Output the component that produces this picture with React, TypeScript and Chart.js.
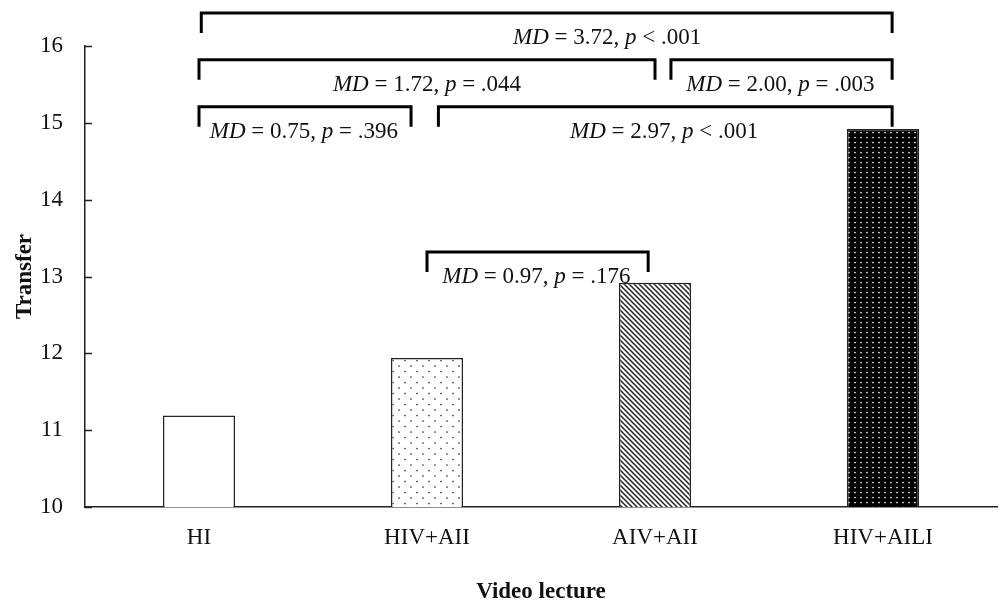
import { useEffect, useRef } from 'react';
import { Chart, registerables } from 'chart.js';

Chart.register(...registerables);

const categories = ['HI', 'HIV+AII', 'AIV+AII', 'HIV+AILI'];
const transferMeans = [11.19, 11.94, 12.92, 14.92];
const yMin = 10;
const yMax = 16;

// comparison brackets (x in category units, level in data units)
const bracketFrom = [0.01, 0.0, 2.07, 0.0, 1.05, 1.0];
const bracketTo = [3.04, 2.0, 3.04, 0.93, 3.04, 1.97];
const bracketLevel = [16.43, 15.82, 15.82, 15.21, 15.21, 13.32];
const bracketMD = ['3.72', '1.72', '2.00', '0.75', '2.97', '0.97'];
const bracketP = ['< .001', '= .044', '= .003', '= .396', '< .001', '= .176'];
const bracketLabelAt = [1.79, 1.0, 2.55, 0.46, 2.04, 1.48];

const FONT = '"Liberation Serif", "Times New Roman", serif';

function makeTile(w: number, h: number, draw: (c: CanvasRenderingContext2D) => void): CanvasPattern | string {
  const cv = document.createElement('canvas');
  cv.width = w;
  cv.height = h;
  const c = cv.getContext('2d');
  if (!c) return '#fff';
  draw(c);
  const ctx2 = document.createElement('canvas').getContext('2d');
  return (ctx2 && ctx2.createPattern(cv, 'repeat')) || '#fff';
}

function dotPattern() {
  return makeTile(12, 11, (c) => {
    c.fillStyle = '#fff';
    c.fillRect(0, 0, 12, 11);
    c.fillStyle = '#333';
    c.beginPath();
    c.arc(3, 3, 0.85, 0, Math.PI * 2);
    c.arc(9, 8.5, 0.85, 0, Math.PI * 2);
    c.fill();
  });
}

function hatchPattern() {
  const s = 5;
  return makeTile(s, s, (c) => {
    c.fillStyle = '#fff';
    c.fillRect(0, 0, s, s);
    c.strokeStyle = '#222';
    c.lineWidth = 1.5;
    c.beginPath();
    c.moveTo(0, 0);
    c.lineTo(s, s);
    c.moveTo(-1, s - 1);
    c.lineTo(1, s + 1);
    c.moveTo(s - 1, -1);
    c.lineTo(s + 1, 1);
    c.stroke();
  });
}

function blackDotPattern() {
  return makeTile(6, 5, (c) => {
    c.fillStyle = '#000';
    c.fillRect(0, 0, 6, 5);
    c.fillStyle = '#fff';
    c.beginPath();
    c.arc(3, 2.5, 0.85, 0, Math.PI * 2);
    c.fill();
  });
}

const overlayPlugin = {
  id: 'overlay',
  afterDraw(chart: any) {
    const { ctx, chartArea } = chart;
    const x = chart.scales.x;
    const y = chart.scales.y;
    ctx.save();
    // inward y ticks
    ctx.strokeStyle = '#222';
    ctx.lineWidth = 1.5;
    ctx.beginPath();
    y.ticks.forEach((t: any) => {
      const py = Math.round(y.getPixelForValue(t.value)) + 0.5;
      ctx.moveTo(chartArea.left, py);
      ctx.lineTo(chartArea.left + 7, py);
    });
    ctx.stroke();

    // brackets
    ctx.strokeStyle = '#000';
    ctx.lineWidth = 3;
    ctx.lineCap = 'butt';
    ctx.lineJoin = 'miter';
    for (let i = 0; i < bracketLevel.length; i++) {
      const x1 = x.getPixelForValue(bracketFrom[i]);
      const x2 = x.getPixelForValue(bracketTo[i]);
      const py = y.getPixelForValue(bracketLevel[i]);
      ctx.beginPath();
      ctx.moveTo(x1, py + 20);
      ctx.lineTo(x1, py);
      ctx.lineTo(x2, py);
      ctx.lineTo(x2, py + 20);
      ctx.stroke();

      // label
      const segs = [
        { t: 'MD', it: true },
        { t: ' = ' + bracketMD[i] + ', ', it: false },
        { t: 'p', it: true },
        { t: ' ' + bracketP[i], it: false },
      ];
      const fontFor = (it: boolean) => (it ? 'italic ' : '') + '23px ' + FONT;
      let total = 0;
      const widths = segs.map((s) => {
        ctx.font = fontFor(s.it);
        const w = ctx.measureText(s.t).width;
        total += w;
        return w;
      });
      let cx = x.getPixelForValue(bracketLabelAt[i]) - total / 2;
      const ty = py + 25;
      ctx.fillStyle = '#111';
      ctx.textBaseline = 'middle';
      ctx.textAlign = 'left';
      segs.forEach((s, k) => {
        ctx.font = fontFor(s.it);
        ctx.fillText(s.t, cx, ty);
        cx += widths[k];
      });
    }

    // axis titles
    ctx.fillStyle = '#111';
    ctx.font = 'bold 23px ' + FONT;
    ctx.textAlign = 'center';
    ctx.textBaseline = 'middle';
    ctx.fillText('Video lecture', (chartArea.left + chartArea.right) / 2, 592);
    ctx.save();
    ctx.translate(25, (chartArea.top + chartArea.bottom) / 2);
    ctx.rotate(-Math.PI / 2);
    ctx.fillText('Transfer', 0, 0);
    ctx.restore();
    ctx.restore();
  },
};

export default function App() {
  const ref = useRef<HTMLCanvasElement | null>(null);
  useEffect(() => {
    document.body.style.margin = '0';
    if (!ref.current) return;
    const chart = new Chart(ref.current, {
      type: 'bar',
      data: {
        labels: categories,
        datasets: [
          {
            data: transferMeans,
            backgroundColor: ['#ffffff', dotPattern(), hatchPattern(), blackDotPattern()] as any,
            borderColor: '#222',
            borderWidth: 1.5,
            categoryPercentage: 1,
            barPercentage: 0.316,
          },
        ],
      },
      options: {
        responsive: false,
        animation: false,
        devicePixelRatio: 1,
        layout: { padding: { top: 46, right: 3, bottom: 0, left: 0 } },
        plugins: { legend: { display: false }, tooltip: { enabled: false } },
        scales: {
          x: {
            grid: { display: false, drawTicks: false },
            border: { display: true, color: '#222', width: 1.5 },
            ticks: { font: { family: FONT, size: 23 }, color: '#111', padding: 17 },
            afterFit: (s: any) => {
              s.height = 97;
            },
          },
          y: {
            min: yMin,
            max: yMax,
            grid: { display: false, drawTicks: false },
            border: { display: true, color: '#222', width: 1.5 },
            ticks: { stepSize: 1, font: { family: FONT, size: 23 }, color: '#111', padding: 22 },
            afterFit: (s: any) => {
              s.width = 85;
            },
          },
        },
      },
      plugins: [overlayPlugin],
    });
    return () => chart.destroy();
  }, []);
  return (
    <div style={{ position: 'absolute', left: 0, top: 0, width: 1000, height: 604, background: '#fff' }}>
      <canvas ref={ref} width={1000} height={604} />
    </div>
  );
}
